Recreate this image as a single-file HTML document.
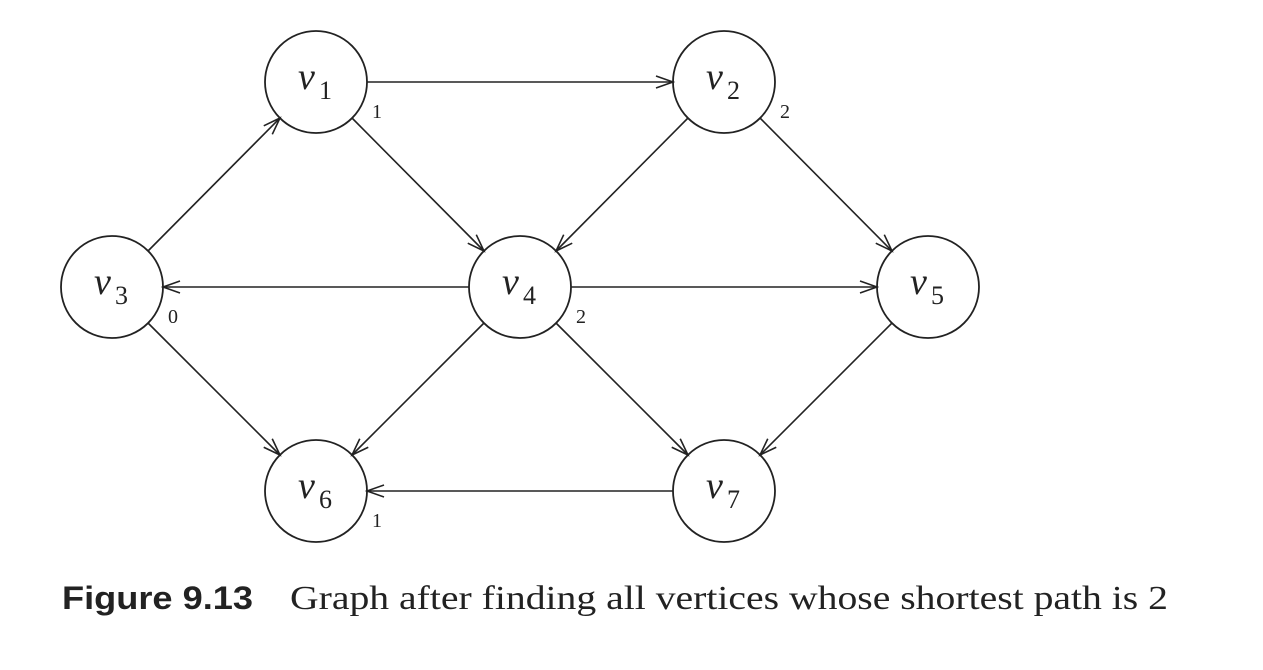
<!DOCTYPE html>
<html><head><style>
html,body{margin:0;padding:0;background:#fff;}
svg{display:block;}
</style></head><body>
<svg width="1263" height="670" xmlns="http://www.w3.org/2000/svg">
<defs>
<marker id="a" markerWidth="20" markerHeight="14" refX="18" refY="7" orient="auto" markerUnits="userSpaceOnUse">
<path d="M1,1 L18,7 L1,13" fill="none" stroke="#222" stroke-width="1.6"/>
</marker>
</defs>
<g stroke="#222" stroke-width="1.8" fill="none">
<circle cx="316" cy="82" r="51"/>
<circle cx="724" cy="82" r="51"/>
<circle cx="112" cy="287" r="51"/>
<circle cx="520" cy="287" r="51"/>
<circle cx="928" cy="287" r="51"/>
<circle cx="316" cy="491" r="51"/>
<circle cx="724" cy="491" r="51"/>
</g>
<g stroke="#222" stroke-width="1.6" marker-end="url(#a)">
<line x1="367" y1="82" x2="673" y2="82"/>
<line x1="352" y1="118" x2="484" y2="251"/>
<line x1="688" y1="118" x2="556" y2="251"/>
<line x1="760" y1="118" x2="892" y2="251"/>
<line x1="148" y1="251" x2="280" y2="118"/>
<line x1="469" y1="287" x2="163" y2="287"/>
<line x1="571" y1="287" x2="877" y2="287"/>
<line x1="148" y1="323" x2="280" y2="455"/>
<line x1="484" y1="323" x2="352" y2="455"/>
<line x1="556" y1="323" x2="688" y2="455"/>
<line x1="892" y1="323" x2="760" y2="455"/>
<line x1="673" y1="491" x2="367" y2="491"/>
</g>
<g font-family="Liberation Serif, serif" fill="#222">
<text x="298" y="89" font-size="38" font-style="italic">v</text><text x="319" y="99" font-size="26">1</text>
<text x="706" y="89" font-size="38" font-style="italic">v</text><text x="727" y="99" font-size="26">2</text>
<text x="94" y="294" font-size="38" font-style="italic">v</text><text x="115" y="304" font-size="26">3</text>
<text x="502" y="294" font-size="38" font-style="italic">v</text><text x="523" y="304" font-size="26">4</text>
<text x="910" y="294" font-size="38" font-style="italic">v</text><text x="931" y="304" font-size="26">5</text>
<text x="298" y="498" font-size="38" font-style="italic">v</text><text x="319" y="508" font-size="26">6</text>
<text x="706" y="498" font-size="38" font-style="italic">v</text><text x="727" y="508" font-size="26">7</text>
<g font-size="20">
<text x="372" y="118">1</text>
<text x="780" y="118">2</text>
<text x="168" y="323">0</text>
<text x="576" y="323">2</text>
<text x="372" y="527">1</text>
</g>
<text x="62" y="609" font-family="Liberation Sans, sans-serif" font-weight="bold" font-size="32" textLength="191" lengthAdjust="spacingAndGlyphs">Figure 9.13</text>
<text x="290" y="609" font-size="34" textLength="878" lengthAdjust="spacingAndGlyphs">Graph after finding all vertices whose shortest path is 2</text>
</g>
</svg>
</body></html>
